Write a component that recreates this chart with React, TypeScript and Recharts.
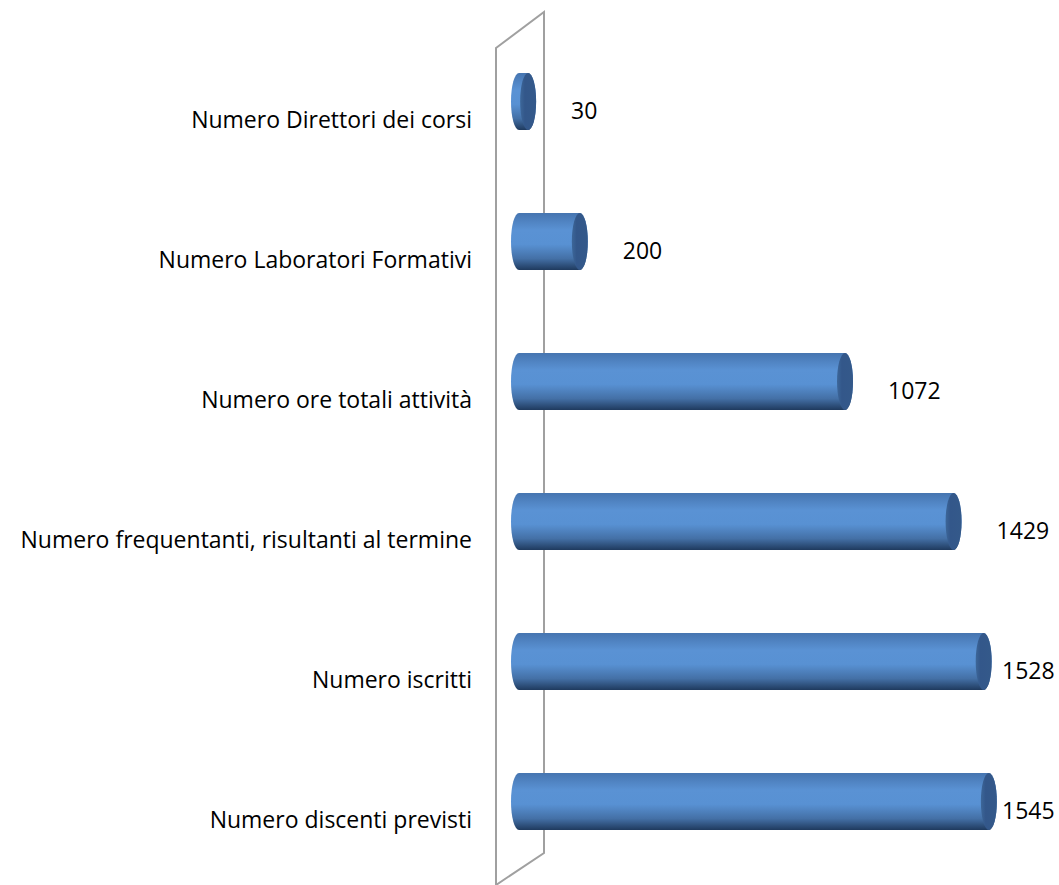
import { Bar, BarChart, LabelList, XAxis, YAxis, usePlotArea } from "recharts";

const categories = [
  "Numero Direttori dei corsi",
  "Numero Laboratori Formativi",
  "Numero ore totali attività",
  "Numero frequentanti, risultanti al termine",
  "Numero iscritti",
  "Numero discenti previsti",
];
const values = [30, 200, 1072, 1429, 1528, 1545];

const data = categories.map((name, i) => ({ name, value: values[i] }));

const W = 1059;
const H = 885;
const CAP = 8; // half-width of the cylinder end ellipses

function Cylinder(props: any) {
  const { x, y, width, height } = props;
  const ry = height / 2;
  const x1 = x + width;
  const d = `M${x},${y} L${x1},${y} A${CAP},${ry} 0 0 1 ${x1},${y + height} L${x},${y + height} A${CAP},${ry} 0 0 1 ${x},${y} Z`;
  return (
    <g>
      <path d={d} fill="url(#cylBody)" />
      <ellipse cx={x1} cy={y + ry} rx={CAP} ry={ry} fill="url(#cylCap)" />
    </g>
  );
}

function Wall() {
  const area = usePlotArea ? usePlotArea() : null;
  const left = area ? area.x : 519;
  const top = area ? area.y : 31;
  const bottom = area ? area.y + area.height : 871;
  const pts = [
    [left - 23, top + 17],
    [left + 25, top - 19],
    [left + 25, bottom - 18],
    [left - 23, bottom + 14],
  ]
    .map((p) => p.join(","))
    .join(" ");
  return <polygon points={pts} fill="none" stroke="#a0a0a0" strokeWidth={2} />;
}

function CategoryTick({ x, y, payload }: any) {
  return (
    <text x={x} y={y} dy={27} textAnchor="end" fontSize={23} fill="#000">
      {payload.value}
    </text>
  );
}

function ValueLabel({ x, y, width, height, value }: any) {
  const start = Math.min(x + width + CAP + 35, W - 57);
  return (
    <text x={start} y={y + height / 2} dy={17} fontSize={23} fill="#000">
      {value}
    </text>
  );
}

export default function App() {
  return (
    <div style={{ position: "absolute", left: 0, top: 0, fontFamily: "'Open Sans', sans-serif", background: "#fff" }}>
      <BarChart
        width={W}
        height={H}
        data={data}
        layout="vertical"
        margin={{ top: 31, right: 23, bottom: 14, left: 0 }}
        barSize={57}
      >
        <defs>
          <linearGradient id="cylBody" x1="0" y1="0" x2="0" y2="1">
            <stop offset="0%" stopColor="#4675b0" />
            <stop offset="30%" stopColor="#5a92d4" />
            <stop offset="55%" stopColor="#5891d3" />
            <stop offset="80%" stopColor="#4470a6" />
            <stop offset="100%" stopColor="#1f3a5e" />
          </linearGradient>
          <linearGradient id="cylCap" x1="0" y1="0" x2="1" y2="0">
            <stop offset="0%" stopColor="#3d6799" />
            <stop offset="30%" stopColor="#33578a" />
            <stop offset="100%" stopColor="#34598a" />
          </linearGradient>
        </defs>
        <Wall />
        <XAxis type="number" domain={[0, 1700]} hide />
        <YAxis
          type="category"
          dataKey="name"
          width={519}
          axisLine={false}
          tickLine={false}
          tickSize={0}
          tickMargin={47}
          tick={<CategoryTick />}
          interval={0}
        />
        <Bar dataKey="value" shape={<Cylinder />} isAnimationActive={false}>
          <LabelList dataKey="value" content={<ValueLabel />} />
        </Bar>
      </BarChart>
    </div>
  );
}
